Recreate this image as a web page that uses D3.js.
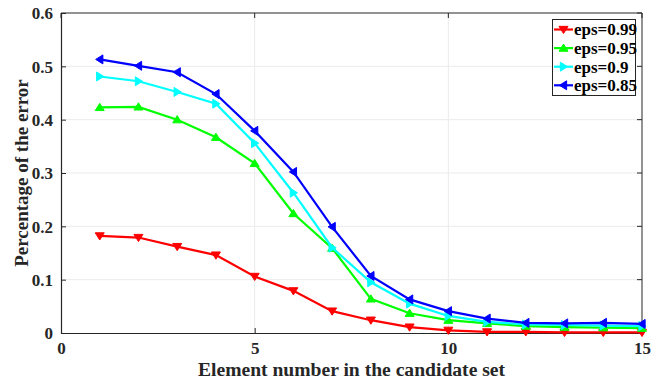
<!DOCTYPE html>
<html>
<head>
<meta charset="utf-8">
<script src="https://cdn.jsdelivr.net/npm/d3@7"></script>
<style>
body { margin: 0; background: #fff; }
text { font-family: "Liberation Serif", "Times New Roman", serif; font-weight: bold; }
</style>
</head>
<body>
<div id="canvas-container"></div>
<script>
var xs = [1, 2, 3, 4, 5, 6, 7, 8, 9, 10, 11, 12, 13, 14, 15];
var eps99 = [0.182, 0.179, 0.162, 0.146, 0.106, 0.079, 0.041, 0.024, 0.011, 0.005, 0.002, 0.002, 0.001, 0.001, 0.001];
var eps95 = [0.423, 0.424, 0.400, 0.367, 0.318, 0.224, 0.159, 0.064, 0.037, 0.024, 0.018, 0.013, 0.011, 0.010, 0.009];
var eps90 = [0.481, 0.472, 0.452, 0.430, 0.356, 0.263, 0.160, 0.095, 0.055, 0.032, 0.021, 0.016, 0.015, 0.014, 0.013];
var eps85 = [0.513, 0.501, 0.489, 0.448, 0.379, 0.302, 0.199, 0.107, 0.063, 0.041, 0.027, 0.019, 0.018, 0.019, 0.017];
var seriesNames = ["eps=0.99", "eps=0.95", "eps=0.9", "eps=0.85"];
var xTicks = [0, 5, 10, 15];
var yTicks = [0, 0.1, 0.2, 0.3, 0.4, 0.5, 0.6];

drawChart();

function drawChart() {
    var series = [
        {name: seriesNames[0], values: eps99, color: "#ff0000", marker: "down"},
        {name: seriesNames[1], values: eps95, color: "#00ff00", marker: "up"},
        {name: seriesNames[2], values: eps90, color: "#00ffff", marker: "right"},
        {name: seriesNames[3], values: eps85, color: "#0000ff", marker: "left"}
    ];

    var w = 662, h = 381;
    var pl = 61, pr = 642, pt = 13, pb = 333;

    var svg = d3.select("#canvas-container").append("svg")
        .attr("width", w)
        .attr("height", h);

    var x = d3.scaleLinear().domain([0, 15]).range([pl, pr]);
    var y = d3.scaleLinear().domain([0, 0.6]).range([pb, pt]);

    // grid
    svg.append("g").selectAll("line")
        .data(xTicks.slice(1, -1)).enter().append("line")
        .attr("x1", d => x(d)).attr("x2", d => x(d))
        .attr("y1", pt).attr("y2", pb)
        .attr("stroke", "#ebebeb").attr("stroke-width", 1);
    svg.append("g").selectAll("line")
        .data(yTicks.slice(1, -1)).enter().append("line")
        .attr("x1", pl).attr("x2", pr)
        .attr("y1", d => y(d)).attr("y2", d => y(d))
        .attr("stroke", "#ebebeb").attr("stroke-width", 1);

    // axes (ticks pointing inward)
    var xAxis = svg.append("g")
        .attr("transform", "translate(0," + pb + ")")
        .call(d3.axisBottom(x).tickValues(xTicks).tickSize(-5).tickPadding(9).tickSizeOuter(0));
    var yAxis = svg.append("g")
        .attr("transform", "translate(" + pl + ",0)")
        .call(d3.axisLeft(y).tickValues(yTicks).tickSize(-5).tickPadding(8).tickSizeOuter(0)
            .tickFormat(d => d === 0 ? "0" : d3.format(".1f")(d)));
    [xAxis, yAxis].forEach(function (a) {
        a.selectAll("path").attr("stroke", "#262626").attr("stroke-width", 1.2);
        a.selectAll("line").attr("stroke", "#262626");
        a.selectAll("text").attr("fill", "#262626").style("font-size", "17px")
            .style("font-family", "Liberation Serif").style("font-weight", "bold");
    });
    yAxis.selectAll("text").attr("dy", "0.35em");

    // box top/right
    svg.append("path")
        .attr("d", "M" + pl + "," + pt + "H" + pr + "V" + pb)
        .attr("fill", "none").attr("stroke", "#262626").attr("stroke-width", 1);
    svg.append("g").selectAll("line")
        .data(xTicks).enter().append("line")
        .attr("x1", d => x(d)).attr("x2", d => x(d))
        .attr("y1", pt).attr("y2", pt + 5).attr("stroke", "#262626");
    svg.append("g").selectAll("line")
        .data(yTicks).enter().append("line")
        .attr("x1", pr - 5).attr("x2", pr)
        .attr("y1", d => y(d)).attr("y2", d => y(d)).attr("stroke", "#262626");

    function markerPath(type, s) {
        if (type == "down") return "M" + (-s) + "," + (-s * 0.7) + "L" + s + "," + (-s * 0.7) + "L0," + (s * 0.9) + "Z";
        if (type == "up") return "M" + (-s) + "," + (s * 0.7) + "L" + s + "," + (s * 0.7) + "L0," + (-s * 0.9) + "Z";
        if (type == "right") return "M" + (-s * 0.7) + "," + (-s) + "L" + (-s * 0.7) + "," + s + "L" + (s * 0.9) + ",0Z";
        return "M" + (s * 0.7) + "," + (-s) + "L" + (s * 0.7) + "," + s + "L" + (-s * 0.9) + ",0Z";
    }

    var line = d3.line().x((d, i) => x(xs[i])).y(d => y(d));

    series.forEach(function (s) {
        svg.append("path")
            .datum(s.values)
            .attr("d", line)
            .attr("fill", "none")
            .attr("stroke", s.color)
            .attr("stroke-width", 2.2);
        svg.append("g").selectAll("path")
            .data(s.values).enter().append("path")
            .attr("transform", (d, i) => "translate(" + x(xs[i]) + "," + y(d) + ")")
            .attr("d", markerPath(s.marker, 4.5))
            .attr("fill", s.color).attr("stroke", s.color);
    });

    // legend
    var lg = svg.append("g");
    lg.append("rect")
        .attr("x", 552.5).attr("y", 19.5).attr("width", 83).attr("height", 76)
        .attr("fill", "#fff").attr("stroke", "#262626").attr("stroke-width", 1);
    series.forEach(function (s, i) {
        var ly = 29.5 + i * 18.6;
        lg.append("line")
            .attr("x1", 554).attr("x2", 573).attr("y1", ly).attr("y2", ly)
            .attr("stroke", s.color).attr("stroke-width", 2.2);
        lg.append("path")
            .attr("transform", "translate(563.5," + ly + ")")
            .attr("d", markerPath(s.marker, 4.5))
            .attr("fill", s.color).attr("stroke", s.color);
        lg.append("text")
            .attr("x", 574).attr("y", ly).attr("dy", "0.35em")
            .style("font-size", "17px").attr("fill", "#000")
            .text(s.name);
    });

    // axis labels
    svg.append("text")
        .attr("x", (pl + pr) / 2).attr("y", 376)
        .attr("text-anchor", "middle")
        .style("font-size", "19.6px").attr("fill", "#262626")
        .text("Element number in the candidate set");
    svg.append("text")
        .attr("transform", "translate(28," + ((pt + pb) / 2) + ") rotate(-90)")
        .attr("text-anchor", "middle")
        .style("font-size", "19px").attr("fill", "#262626")
        .text("Percentage of the error");
}
</script>
</body>
</html>
